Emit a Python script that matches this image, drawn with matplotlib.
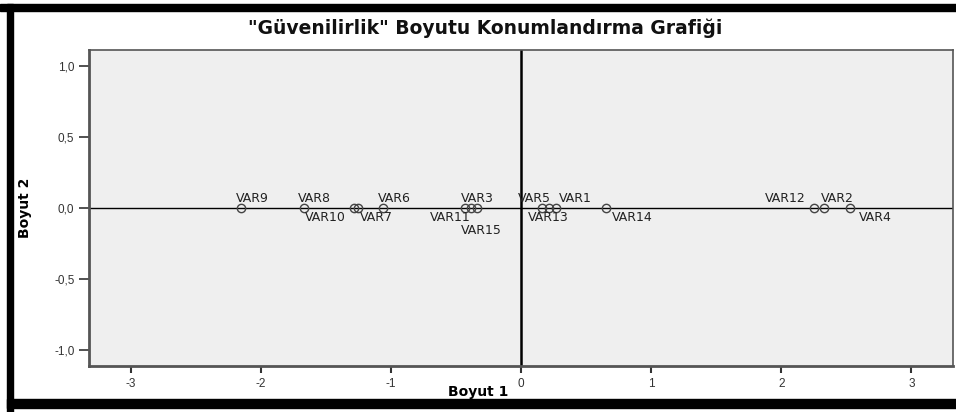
import matplotlib
matplotlib.use("Agg")
import matplotlib.pyplot as plt
from matplotlib.patches import Rectangle

# ---- DATA ----
var_names = ["VAR9", "VAR8", "VAR10", "VAR7", "VAR6", "VAR3", "VAR11", "VAR15",
             "VAR5", "VAR13", "VAR1", "VAR14", "VAR12", "VAR2", "VAR4"]
boyut1 = [-2.15, -1.67, -1.285, -1.25, -1.06, -0.43, -0.385, -0.34,
          0.16, 0.215, 0.27, 0.655, 2.25, 2.33, 2.53]
boyut2 = [0.0] * 15

x_ticks = [-3, -2, -1, 0, 1, 2, 3]
x_tick_labels = ["-3", "-2", "-1", "0", "1", "2", "3"]
y_ticks = [-1.0, -0.5, 0.0, 0.5, 1.0]
y_tick_labels = ["-1,0", "-0,5", "0,0", "0,5", "1,0"]

title = "\"Güvenilirlik\" Boyutu Konumlandırma Grafiği"

# label placement (offset in points, horizontal alignment)
label_pos = {
    "VAR9": ((-4, 7), "left"), "VAR8": ((-4, 7), "left"),
    "VAR10": ((-6, -7), "right"), "VAR7": ((1, -7), "left"),
    "VAR6": ((-4, 7), "left"), "VAR3": ((-3, 7), "left"),
    "VAR11": ((0, -7), "right"), "VAR15": ((3, -16), "center"),
    "VAR5": ((-17, 7), "left"), "VAR13": ((-15, -7), "left"),
    "VAR1": ((2, 7), "left"), "VAR14": ((4, -7), "left"),
    "VAR12": ((-6, 7), "right"), "VAR2": ((-2, 7), "left"),
    "VAR4": ((6, -7), "left"),
}

# ---- PLOT ----
plt.rcParams['font.family'] = ['Liberation Sans', 'DejaVu Sans']
fig = plt.figure(figsize=(9.56, 4.12), dpi=100)
ax = fig.add_axes([89 / 956, 1 - 366 / 412, (953 - 89) / 956, (366 - 50) / 412])
ax.set_facecolor("#efefef")

ax.axhline(0, color="black", lw=1.0, zorder=1)
ax.axvline(0, color="black", lw=1.8, zorder=1)
ax.plot(boyut1, boyut2, ls="none", marker="o", ms=6, mfc="none",
        mec="#444444", mew=1.0, zorder=3)

for name, x, y in zip(var_names, boyut1, boyut2):
    off, ha = label_pos[name]
    ax.annotate(name, (x, y), xytext=off, textcoords="offset points",
                ha=ha, va="center", fontsize=9, color="#222222",
                family="DejaVu Sans", zorder=4)

ax.set_xlim(-3.32, 3.32)
ax.set_ylim(-1.11, 1.11)
ax.set_xticks(x_ticks)
ax.set_xticklabels(x_tick_labels)
ax.set_yticks(y_ticks)
ax.set_yticklabels(y_tick_labels)
ax.tick_params(axis="y", length=7, width=1.2, colors="#333333", labelsize=8.5)
ax.tick_params(axis="x", length=5, width=1.5, colors="#333333", labelsize=8.5)
for sp in ax.spines.values():
    sp.set_color("#555555")
    sp.set_linewidth(1.2)
ax.spines["left"].set_linewidth(2)
ax.spines["bottom"].set_linewidth(2)

fig.text(485 / 956, 1 - 28 / 412, title, ha="center", va="center",
         fontsize=13.5, fontweight="bold", color="#111111", family="DejaVu Sans")
fig.text(478 / 956, 1 - 392 / 412, "Boyut 1", ha="center", va="center",
         fontsize=10, fontweight="bold", family="DejaVu Sans")
fig.text(25 / 956, 1 - 208 / 412, "Boyut 2", ha="center", va="center",
         rotation=90, fontsize=10, fontweight="bold", family="DejaVu Sans")

# black frame bands
fig.patches.append(Rectangle((0, 1 - 11 / 412), 1, 7 / 412, transform=fig.transFigure,
                             color="black", zorder=0))
fig.patches.append(Rectangle((7 / 956, 0), 6 / 956, 1 - 4 / 412, transform=fig.transFigure,
                             color="black", zorder=0))
fig.patches.append(Rectangle((7 / 956, 4 / 412), 1, 9 / 412, transform=fig.transFigure,
                             color="black", zorder=0))

fig.savefig("out.png", dpi=100)
